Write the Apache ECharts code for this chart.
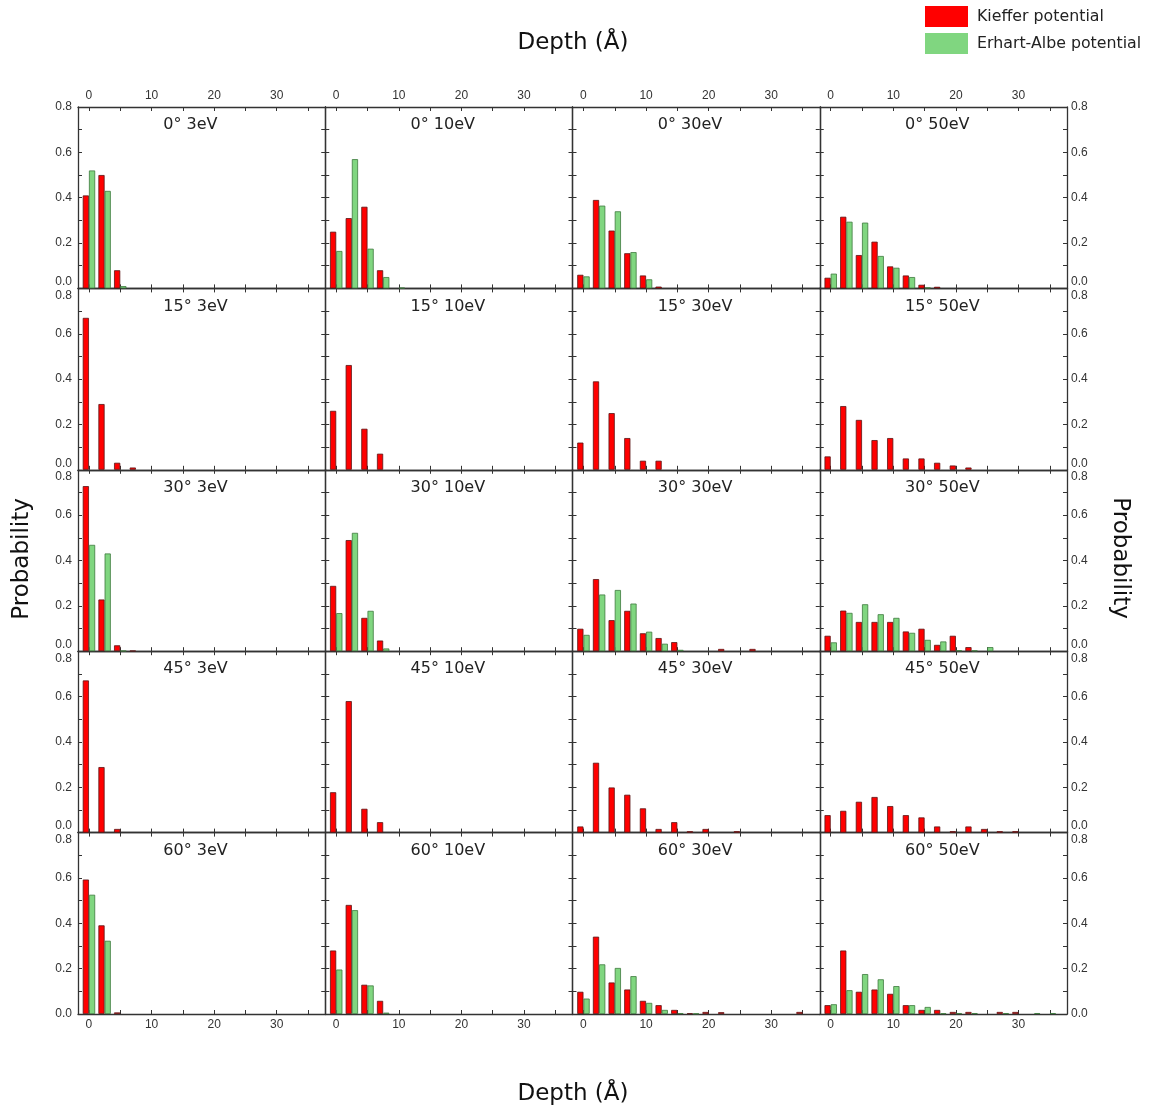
<!DOCTYPE html>
<html><head><meta charset="utf-8">
<script src="https://cdn.jsdelivr.net/npm/echarts@6/dist/echarts.min.js"></script>
<style>html,body{margin:0;padding:0;background:#fff}#c{width:1150px;height:1109px}</style>
</head><body><div id="c"></div>
<script>
// ---------- DATA ----------
const bins = [0, 2.5, 5, 7.5, 10, 12.5, 15, 17.5, 20, 22.5, 25, 27.5, 30, 32.5, 35];
const angles = ['0°', '15°', '30°', '45°', '60°'];
const energies = ['3eV', '10eV', '30eV', '50eV'];
const xTickLabels = [0, 10, 20, 30];
const xTickMarks = [0, 5, 10, 15, 20, 25, 30, 35];
const yTickLabels = [0, 0.2, 0.4, 0.6, 0.8];
const seriesNames = ['Kieffer potential', 'Erhart-Albe potential'];

// Kieffer potential (red)
const k0_3   = [0.41, 0.50, 0.08];
const k0_10  = [0.25, 0.31, 0.36, 0.08];
const k0_30  = [0.06, 0.39, 0.255, 0.155, 0.057, 0.008];
const k0_50  = [0.047, 0.316, 0.147, 0.206, 0.097, 0.057, 0.016, 0.007];
const k15_3  = [0.67, 0.29, 0.031, 0.01];
const k15_10 = [0.26, 0.462, 0.181, 0.071];
const k15_30 = [0.12, 0.39, 0.25, 0.14, 0.04, 0.04];
const k15_50 = [0.059, 0.281, 0.22, 0.131, 0.14, 0.05, 0.05, 0.031, 0.019, 0.01];
const k30_3  = [0.728, 0.228, 0.026, 0.002];
const k30_10 = [0.288, 0.49, 0.147, 0.047];
const k30_30 = [0.099, 0.318, 0.137, 0.178, 0.079, 0.058, 0.04, null, null, 0.01, null, 0.01];
const k30_50 = [0.068, 0.179, 0.129, 0.129, 0.129, 0.087, 0.099, 0.028, 0.068, 0.018];
const k45_3  = [0.671, 0.289, 0.016];
const k45_10 = [0.178, 0.58, 0.105, 0.046];
const k45_30 = [0.027, 0.308, 0.199, 0.167, 0.107, 0.016, 0.046, 0.006, 0.016, null, 0.006];
const k45_50 = [0.077, 0.096, 0.136, 0.157, 0.117, 0.077, 0.067, 0.027, 0.006, 0.027, 0.016, 0.006, 0.006];
const k60_3  = [0.593, 0.391, 0.007];
const k60_10 = [0.28, 0.481, 0.129, 0.058];
const k60_30 = [0.098, 0.341, 0.139, 0.108, 0.058, 0.039, 0.018, 0.003, 0.009, 0.008, null, null, null, null, 0.009];
const k60_50 = [0.039, 0.28, 0.098, 0.108, 0.089, 0.039, 0.018, 0.018, 0.009, 0.009, null, 0.009, 0.009];

// Erhart-Albe potential (green)
const e0_3   = [0.52, 0.43, 0.01];
const e0_10  = [0.165, 0.57, 0.175, 0.05, 0.003];
const e0_30  = [0.053, 0.365, 0.34, 0.16, 0.04];
const e0_50  = [0.065, 0.294, 0.29, 0.143, 0.091, 0.05, 0.004];
const e15_3 = [], e15_10 = [], e15_30 = [], e15_50 = [];
const e30_3  = [0.469, 0.431, 0.002];
const e30_10 = [0.168, 0.522, 0.178, 0.012];
const e30_30 = [0.072, 0.25, 0.27, 0.21, 0.086, 0.033, 0.006];
const e30_50 = [0.039, 0.169, 0.207, 0.163, 0.147, 0.081, 0.05, 0.043, 0.004, 0.003, 0.018];
const e45_3 = [], e45_10 = [], e45_30 = [], e45_50 = [];
const e60_3  = [0.526, 0.323];
const e60_10 = [0.196, 0.458, 0.126, 0.006];
const e60_30 = [0.068, 0.219, 0.203, 0.167, 0.049, 0.018, 0.004, 0.002];
const e60_50 = [0.043, 0.105, 0.176, 0.153, 0.123, 0.039, 0.031, 0.003, 0.004, 0.004, null, 0.004, null, 0.004, 0.004];

const kieffer = [
  [k0_3, k0_10, k0_30, k0_50],
  [k15_3, k15_10, k15_30, k15_50],
  [k30_3, k30_10, k30_30, k30_50],
  [k45_3, k45_10, k45_30, k45_50],
  [k60_3, k60_10, k60_30, k60_50]
];
const erhart = [
  [e0_3, e0_10, e0_30, e0_50],
  [e15_3, e15_10, e15_30, e15_50],
  [e30_3, e30_10, e30_30, e30_50],
  [e45_3, e45_10, e45_30, e45_50],
  [e60_3, e60_10, e60_30, e60_50]
];

// ---------- LAYOUT ----------
const L0 = 78, PW = 247.25, T0 = 107, PH = 181.4;
const AXC = '#333';
const LBL = { fontSize: 12, color: '#333', fontFamily: 'Liberation Sans' };
const RED = '#ff0000', GREEN = '#80d680';

const grids = [], xAxes = [], yAxes = [], series = [], titles = [];

function pairs(arr) {
  const out = [];
  arr.forEach((v, i) => { if (v !== null && v !== undefined) out.push([bins[i], v]); });
  return out;
}

for (let r = 0; r < 5; r++) {
  for (let c = 0; c < 4; c++) {
    const gi = r * 4 + c;
    grids.push({ left: L0 + c * PW, top: T0 + r * PH, width: PW, height: PH, show: false, containLabel: false });
    const xBase = (pos, showLbl) => ({
      type: 'value', gridIndex: gi, min: -1.75, max: 37.75, position: pos,
      axisLine: { show: true, onZero: false, lineStyle: { color: AXC, width: 1.3 } },
      axisTick: { show: true, inside: true, length: 4, customValues: xTickMarks, lineStyle: { color: AXC } },
      axisLabel: Object.assign({ show: showLbl, customValues: xTickLabels, margin: 5 }, LBL),
      splitLine: { show: false }
    });
    xAxes.push(xBase('bottom', r === 4));
    xAxes.push(xBase('top', r === 0));
    const yBase = (pos, showLbl) => ({
      type: 'value', gridIndex: gi, min: 0, max: 0.8, interval: 0.1, position: pos,
      axisLine: { show: true, onZero: false, lineStyle: { color: AXC, width: 1.3 } },
      axisTick: { show: true, inside: true, length: 4, lineStyle: { color: AXC } },
      axisLabel: Object.assign({
        show: showLbl, customValues: yTickLabels, margin: pos === 'left' ? 6 : 4,
        formatter: (v) => {
          const s = v.toFixed(1);
          if (v < 0.05 && r < 4) return '{lo|' + s + '}';
          if (v > 0.75 && r > 0) return '{hi|' + s + '}';
          return s;
        },
        rich: {
          lo: Object.assign({ padding: [0, 0, 13, 0] }, LBL),
          hi: Object.assign({ padding: [14, 0, 0, 0] }, LBL)
        }
      }, LBL),
      splitLine: { show: false }
    });
    yAxes.push(yBase('left', c === 0));
    yAxes.push(yBase('right', c === 3));

    series.push({
      type: 'bar', name: seriesNames[0], xAxisIndex: 2 * gi, yAxisIndex: 2 * gi,
      data: pairs(kieffer[r][c]), barWidth: 6.2, barGap: '0%',
      itemStyle: { color: RED, borderColor: '#5a1515', borderWidth: 0.8 }
    });
    series.push({
      type: 'bar', name: seriesNames[1], xAxisIndex: 2 * gi, yAxisIndex: 2 * gi,
      data: pairs(erhart[r][c]), barWidth: 6.2, barGap: '0%',
      itemStyle: { color: GREEN, borderColor: '#3d7a3d', borderWidth: 0.8 }
    });

    titles.push({
      text: angles[r] + ' ' + energies[c],
      left: L0 + c * PW + 85.3, top: T0 + r * PH + 10, padding: 0,
      textStyle: { fontSize: 16, fontWeight: 'normal', color: '#222', fontFamily: 'DejaVu Sans', lineHeight: 16 }
    });
  }
}

const TT = { fontSize: 23, fill: '#111', fontFamily: 'DejaVu Sans', align: 'center', verticalAlign: 'middle' };

const option = {
  animation: false,
  backgroundColor: '#fff',
  title: titles,
  legend: {
    data: seriesNames, orient: 'vertical', left: 925, top: 6, padding: 0,
    itemWidth: 43, itemHeight: 21, itemGap: 6, icon: 'rect',
    itemStyle: { borderWidth: 0 },
    textStyle: { fontSize: 15.8, color: '#222', fontFamily: 'DejaVu Sans', padding: [0, 0, 0, 4] }
  },
  grid: grids, xAxis: xAxes, yAxis: yAxes, series: series,
  graphic: [
    { type: 'text', x: 573, y: 43, style: Object.assign({ text: 'Depth (Å)' }, TT) },
    { type: 'text', x: 573, y: 1094, style: Object.assign({ text: 'Depth (Å)' }, TT) },
    { type: 'text', x: 22, y: 559, rotation: Math.PI / 2, style: Object.assign({ text: 'Probability' }, TT) },
    { type: 'text', x: 1120, y: 558, rotation: -Math.PI / 2, style: Object.assign({ text: 'Probability' }, TT) }
  ]
};

const chart = echarts.init(document.getElementById('c'), null, { renderer: 'canvas' });
chart.setOption(option);
</script>
</body></html>
